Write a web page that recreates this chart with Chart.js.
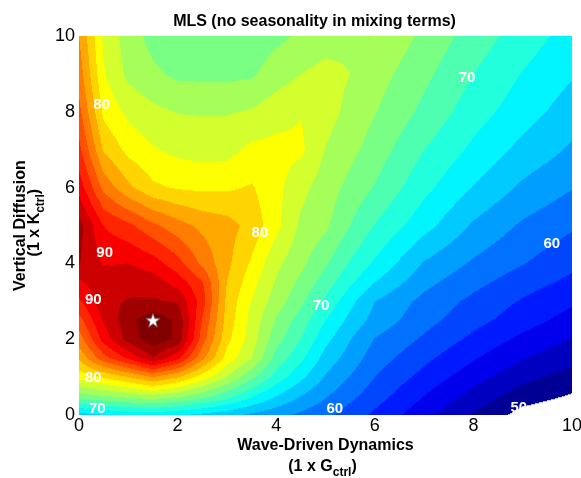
<!DOCTYPE html>
<html>
<head>
<meta charset="utf-8">
<script src="https://cdn.jsdelivr.net/npm/chart.js@4.4.0/dist/chart.umd.min.js"></script>
<style>
  html, body { margin: 0; padding: 0; background: #fff; }
</style>
</head>
<body>
<canvas id="grafico" width="581" height="478"></canvas>
<script>
// malla de la superficie (x = dinamica de ondas, y = difusion vertical)
const ejeX = [0, 0.5, 1, 1.5, 2, 2.5, 3, 3.5, 4, 4.5, 5, 5.5, 6, 7, 8, 9, 10]
const ejeY = [0, 0.5, 1, 1.5, 2, 2.5, 3, 3.5, 4, 5, 6, 7, 8, 9, 10]

// una fila por cada valor de ejeY
const fila0 = [65.2, 66.0, 66.6, 66.8, 66.3, 65.5, 64.6, 63.6, 62.6, 61.6, 60.5, 59.05, 57.6, 54.7, 51.8, 49.2, 48.3]
const fila05 = [73.1, 74.0, 74.8, 75.5, 74.4, 72.8, 70.8, 68.4, 66.0, 64.0, 62.2, 60.55, 58.9, 56.0, 53.3, 51.0, 49.8]
const fila1 = [78.7, 80.2, 82.0, 84.0, 82.2, 79.0, 75.8, 72.5, 69.2, 66.5, 63.8, 61.9, 60.0, 57.3, 54.8, 52.6, 51.2]
const fila15 = [82.4, 87.2, 90.3, 93.8, 90.5, 84.5, 79.2, 76.0, 71.3, 68.5, 65.2, 63.1, 61.0, 58.5, 56.2, 54.1, 52.6]
const fila2 = [85.0, 90.8, 94.8, 97.3, 95.6, 87.0, 80.6, 77.0, 72.8, 70.0, 66.6, 64.1, 61.9, 59.7, 57.5, 55.5, 53.9]
const fila25 = [87.2, 92.2, 95.3, 97.5, 95.6, 87.9, 81.2, 77.3, 73.8, 71.1, 68.0, 65.4, 63.3, 60.7, 58.7, 56.9, 55.2]
const fila3 = [89.6, 93.5, 94.1, 94.3, 93.8, 89.0, 81.5, 77.9, 75.0, 72.5, 69.6, 66.6, 64.0, 61.4, 59.5, 57.8, 56.3]
const fila35 = [91.6, 93.4, 93.5, 93.0, 91.2, 88.2, 82.0, 78.8, 75.8, 73.5, 71.0, 68.4, 66.0, 62.6, 60.6, 58.9, 57.5]
const fila4 = [94.1, 91.8, 92.0, 91.0, 88.8, 85.5, 82.5, 79.7, 76.5, 74.5, 72.3, 69.8, 67.7, 63.8, 61.7, 60.1, 58.5]
const fila5 = [94.8, 90.0, 88.5, 86.5, 84.8, 83.5, 82.8, 81.3, 78.6, 75.6, 74.4, 72.0, 69.9, 66.75, 63.7, 61.7, 60.3]
const fila6 = [91.2, 85.4, 82.5, 80.4, 79.8, 79.6, 79.7, 80.2, 78.6, 76.6, 75.0, 73.4, 71.85, 68.55, 65.9, 63.6, 62.1]
const fila7 = [88.6, 81.8, 79.4, 78.2, 77.5, 77.2, 77.3, 78.5, 78.6, 78.4, 75.9, 74.55, 73.1, 70.0, 67.55, 65.4, 63.7]
const fila8 = [86.6, 79.5, 77.5, 76.5, 75.9, 75.85, 75.85, 76.2, 77.2, 77.9, 76.8, 75.45, 74.1, 71.5, 68.9, 66.9, 65.0]
const fila9 = [85.1, 78.2, 75.5, 74.4, 73.6, 73.5, 73.5, 73.7, 75.0, 76.0, 76.7, 76.0, 74.9, 72.5, 70.0, 67.9, 66.2]
const fila10 = [84.0, 77.6, 75.0, 73.3, 72.9, 72.6, 72.5, 72.8, 73.5, 74.3, 75.0, 75.5, 76.05, 73.5, 71.1, 69.0, 67.2]
const valores = [fila0, fila05, fila1, fila15, fila2, fila25, fila3, fila35, fila4, fila5, fila6, fila7, fila8, fila9, fila10]

const niveles = [50, 52, 54, 56, 58, 60, 62, 64, 66, 68, 70, 72, 74, 76, 78, 80, 82, 84, 86, 88, 90, 92, 94, 96]
const ticksX = [0, 2, 4, 6, 8, 10]
const ticksY = [0, 2, 4, 6, 8, 10]
const maximo = [1.5, 2.5]
const etiquetasContorno = [
  ['80', 0.46, 8.2], ['90', 0.52, 4.27], ['90', 0.29, 3.03], ['80', 0.29, 0.97], ['70', 0.37, 0.15],
  ['80', 3.67, 4.8], ['70', 4.91, 2.88], ['60', 5.19, 0.16], ['70', 7.87, 8.91], ['60', 9.59, 4.51],
  ['50', 8.92, 0.18],
]

const fuente = "'Liberation Sans', Arial, sans-serif"
Chart.defaults.font.family = fuente

// colormap jet
function jet(t) {
  t = Math.max(0, Math.min(1, t))
  const f = (d) => Math.max(0, Math.min(1, 1.5 - Math.abs(4 * t - d)))
  return [f(3), f(2), f(1)].map((c) => Math.round(c * 255))
}

function buscar(arr, v) {
  let i = 0
  while (i < arr.length - 2 && v > arr[i + 1]) i++
  return i
}

function interpolar(vx, vy) {
  const i = buscar(ejeX, vx)
  const j = buscar(ejeY, vy)
  const tx = Math.max(0, Math.min(1, (vx - ejeX[i]) / (ejeX[i + 1] - ejeX[i])))
  const ty = Math.max(0, Math.min(1, (vy - ejeY[j]) / (ejeY[j + 1] - ejeY[j])))
  const a = valores[j][i], b = valores[j][i + 1], c = valores[j + 1][i], d = valores[j + 1][i + 1]
  return a * (1 - tx) * (1 - ty) + b * tx * (1 - ty) + c * (1 - tx) * ty + d * tx * ty
}

// relleno de contornos (como contourf), pintado con las escalas del grafico
const contorno = {
  id: 'contorno',
  beforeDatasetsDraw(chart) {
    const { ctx, chartArea: area, scales } = chart
    const w = Math.round(area.right - area.left)
    const h = Math.round(area.bottom - area.top)
    const off = document.createElement('canvas')
    off.width = w
    off.height = h
    const octx = off.getContext('2d')
    const img = octx.createImageData(w, h)
    const colores = niveles.map((n) => jet((n - 49) / 46.5))
    const xs = []
    for (let i = 0; i < w; i++) xs.push(scales.x.getValueForPixel(area.left + i + 0.5))
    for (let j = 0; j < h; j++) {
      const vy = scales.y.getValueForPixel(area.top + j + 0.5)
      for (let i = 0; i < w; i++) {
        const v = interpolar(xs[i], vy)
        let k = -1
        for (let m = 0; m < niveles.length; m++) if (v >= niveles[m]) k = m
        if (k < 0) continue
        const c = colores[k]
        const p = (j * w + i) * 4
        img.data[p] = c[0]
        img.data[p + 1] = c[1]
        img.data[p + 2] = c[2]
        img.data[p + 3] = 255
      }
    }
    octx.putImageData(img, 0, 0)
    ctx.drawImage(off, area.left, area.top)
  },
  afterDatasetsDraw(chart) {
    const { ctx, chartArea: area, scales } = chart
    ctx.save()
    ctx.beginPath()
    ctx.rect(area.left, area.top, area.right - area.left, area.bottom - area.top)
    ctx.clip()
    ctx.fillStyle = '#fff'
    ctx.font = 'bold 15px ' + fuente
    ctx.textAlign = 'center'
    ctx.textBaseline = 'middle'
    etiquetasContorno.forEach((e) => {
      ctx.fillText(e[0], scales.x.getPixelForValue(e[1]), scales.y.getPixelForValue(e[2]))
    })
    ctx.restore()
  },
}

function textoConSubindice(ctx, partes, cx, cy) {
  let total = 0
  partes.forEach((p) => {
    ctx.font = 'bold ' + p[1] + 'px ' + fuente
    total += ctx.measureText(p[0]).width
  })
  let x = cx - total / 2
  ctx.textAlign = 'left'
  ctx.textBaseline = 'middle'
  partes.forEach((p) => {
    ctx.font = 'bold ' + p[1] + 'px ' + fuente
    ctx.fillText(p[0], x, cy + p[2])
    x += ctx.measureText(p[0]).width
  })
}

// titulos de los ejes con subindice
const titulosEjes = {
  id: 'titulosEjes',
  afterDraw(chart) {
    const { ctx, chartArea: area } = chart
    const cx = (area.left + area.right) / 2
    const cy = (area.top + area.bottom) / 2
    ctx.save()
    ctx.fillStyle = '#000'
    textoConSubindice(ctx, [['Wave-Driven Dynamics', 16, 0]], cx, 446)
    textoConSubindice(ctx, [['(1 x G', 16, 0], ['ctrl', 12, 6], [')', 16, 0]], cx - 3, 467)
    ctx.translate(21, cy)
    ctx.rotate(-Math.PI / 2)
    textoConSubindice(ctx, [['Vertical Diffusion', 16, 0]], 0, 0)
    ctx.translate(3, 14)
    textoConSubindice(ctx, [['(1 x K', 16, 0], ['ctrl', 12, 6], [')', 16, 0]], 0, 0)
    ctx.restore()
  },
}

const estrella = document.createElement('canvas')
estrella.width = 18
estrella.height = 18
const sctx = estrella.getContext('2d')
sctx.beginPath()
for (let k = 0; k < 10; k++) {
  const r = k % 2 ? 3.0 : 7.5
  const ang = -Math.PI / 2 + (k * Math.PI) / 5
  const px = 9 + r * Math.cos(ang)
  const py = 9.6 + r * Math.sin(ang)
  if (k) sctx.lineTo(px, py)
  else sctx.moveTo(px, py)
}
sctx.closePath()
sctx.fillStyle = '#fff'
sctx.fill()
sctx.strokeStyle = '#666'
sctx.lineWidth = 0.7
sctx.stroke()

new Chart(document.getElementById('grafico'), {
  type: 'scatter',
  data: {
    datasets: [
      {
        label: 'maximo',
        data: [{ x: maximo[0], y: maximo[1] }],
        pointStyle: estrella,
        pointRadius: 8,
      },
    ],
  },
  options: {
    responsive: false,
    animation: false,
    layout: { padding: { left: 52, right: 4, top: 0, bottom: 0 } },
    plugins: {
      legend: { display: false },
      tooltip: { enabled: false },
      title: {
        display: true,
        text: 'MLS (no seasonality in mixing terms)',
        color: '#000',
        font: { size: 16, weight: 'bold' },
        padding: { top: 12, bottom: 5 },
      },
    },
    scales: {
      x: {
        type: 'linear',
        min: 0,
        max: 10,
        grid: { display: false, drawTicks: false },
        border: { display: false },
        ticks: { color: '#000', font: { size: 18 }, padding: 0, maxRotation: 0, autoSkip: false },
        afterBuildTicks: (s) => { s.ticks = ticksX.map((v) => ({ value: v })) },
        afterFit: (s) => { s.height = 63; s.paddingLeft = 0; s.paddingRight = 0 },
      },
      y: {
        type: 'linear',
        min: 0,
        max: 10,
        grid: { display: false, drawTicks: false },
        border: { display: false },
        ticks: { color: '#000', font: { size: 18 }, padding: 4, autoSkip: false },
        afterBuildTicks: (s) => { s.ticks = ticksY.map((v) => ({ value: v })) },
        afterFit: (s) => { s.width = 27; s.paddingTop = 0; s.paddingBottom = 0 },
      },
    },
  },
  plugins: [contorno, titulosEjes],
})
</script>
</body>
</html>
